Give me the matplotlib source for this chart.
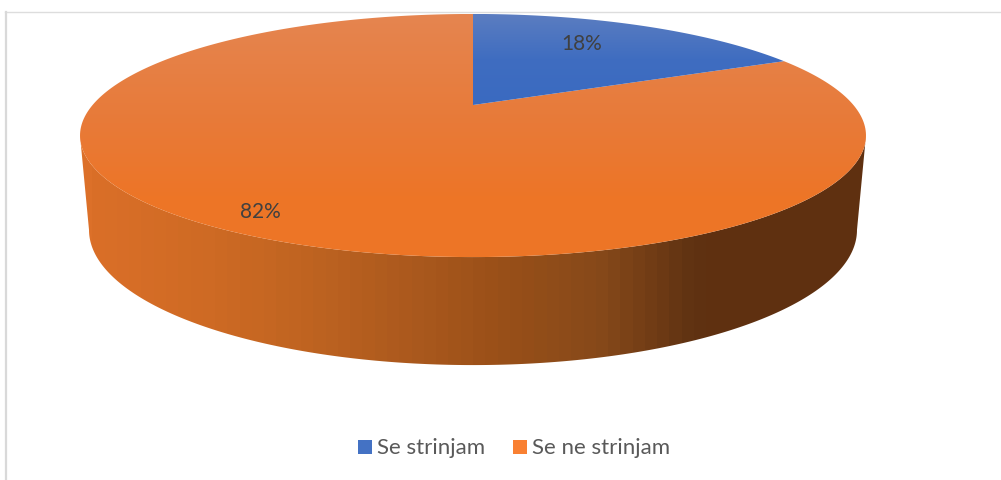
import numpy as np
import matplotlib
matplotlib.use("Agg")
import matplotlib.pyplot as plt
from matplotlib.colors import LinearSegmentedColormap
from matplotlib.patches import Polygon, Rectangle

plt.rcParams['font.family'] = ['Lato', 'DejaVu Sans']

labels = ['Se strinjam', 'Se ne strinjam']
shares = [18, 82]

W, H = 1001, 480

# pie geometry in pixels, perspective gives the off-centre apex
cx, cy = 473, 105
A, B, k = 380.4, 113.9, -0.251
mid_y = 135.5
bottom_y = 230


def top_rim(t):
    # t is clockwise from 12 o'clock, in radians
    u, v = np.sin(t), -np.cos(t)
    d = 1 + k * v
    return cx + A * u / d, cy + B * v / d


def bottom_rim(t):
    x, y = top_rim(t)
    return cx + 384 / 393 * (x - cx), bottom_y + 135 / 121.5 * (y - mid_y)


def wedge(start, end):
    t = np.linspace(start, end, 300)
    x, y = top_rim(t)
    return np.column_stack([np.r_[cx, x], np.r_[cy, y]])


def grad(ax, poly, cmap, vertical=True, extent=None, levels=256):
    patch = Polygon(poly, closed=True, fc='none', ec='none')
    ax.add_patch(patch)
    g = np.linspace(0, 1, levels)
    g = g[:, None] if vertical else g[None, :]
    im = ax.imshow(g, cmap=cmap, extent=extent, aspect='auto', interpolation='nearest', zorder=2)
    im.set_clip_path(patch)
    return im


fig = plt.figure(figsize=(W / 100, H / 100), dpi=100)
ax = fig.add_axes([0, 0, 1, 1])
ax.set_axis_off()

# side wall, from the widest point round the front
t0 = np.arccos(k)
t_side = np.linspace(t0, 2 * np.pi - t0, 400)
tx, ty = top_rim(t_side)
bx, by = bottom_rim(t_side)
side = np.column_stack([np.r_[tx, bx[::-1]], np.r_[ty, by[::-1]]])
side_cmap = LinearSegmentedColormap.from_list('side', [
    (0.000, '#DC7029'), (0.015, '#DA6F28'), (0.16, '#CE6A24'), (0.28, '#C06421'),
    (0.407, '#AD5A1E'), (0.534, '#9A5018'), (0.662, '#87491A'), (0.789, '#5F3212'),
    (0.81, '#5F3010'), (1.000, '#5F3010')])
grad(ax, side, side_cmap, vertical=False, extent=(80, 866, H, 0), levels=64)

# top faces
orange_cmap = LinearSegmentedColormap.from_list('o', [
    (0.0, '#E58550'), (0.45, '#E87A38'), (0.75, '#ED7527'), (1.0, '#ED7626')])
blue_cmap = LinearSegmentedColormap.from_list('b', ['#5B7DC0', '#3F6DC0', '#3A6AC0'])
angles = np.cumsum([0] + shares) / sum(shares) * 2 * np.pi
grad(ax, wedge(angles[1], angles[2]), orange_cmap, extent=(80, 866, 257, 14))
grad(ax, wedge(angles[0], angles[1]), blue_cmap, extent=(473, 790, 105, 14))

# chart frame
ax.plot([W, 5], [11.7, 11.7], color='#DDDDDD', lw=1.0, zorder=1)
ax.plot([6, 6], [11.7, H - 1], color='#D9D9D9', lw=1.6, zorder=1)

# value labels
for txt, x, y in [(f'{shares[0]}%', 582, 44), (f'{shares[1]}%', 260, 212)]:
    ax.text(x, y, txt, fontsize=15, color='#404040', ha='center', va='center', zorder=5)

# legend
leg_colors = ['#4472C4', '#F98032']
for name, col, x in zip(labels, leg_colors, [358, 513]):
    ax.add_patch(Rectangle((x, 440), 14, 14, fc=col, ec='none', zorder=5))
    ax.text(x + 19, 447.5, name, fontsize=16, color='#595959', ha='left', va='center', zorder=5)

ax.set_xlim(0, W)
ax.set_ylim(H, 0)
fig.savefig('out.png', dpi=100)
